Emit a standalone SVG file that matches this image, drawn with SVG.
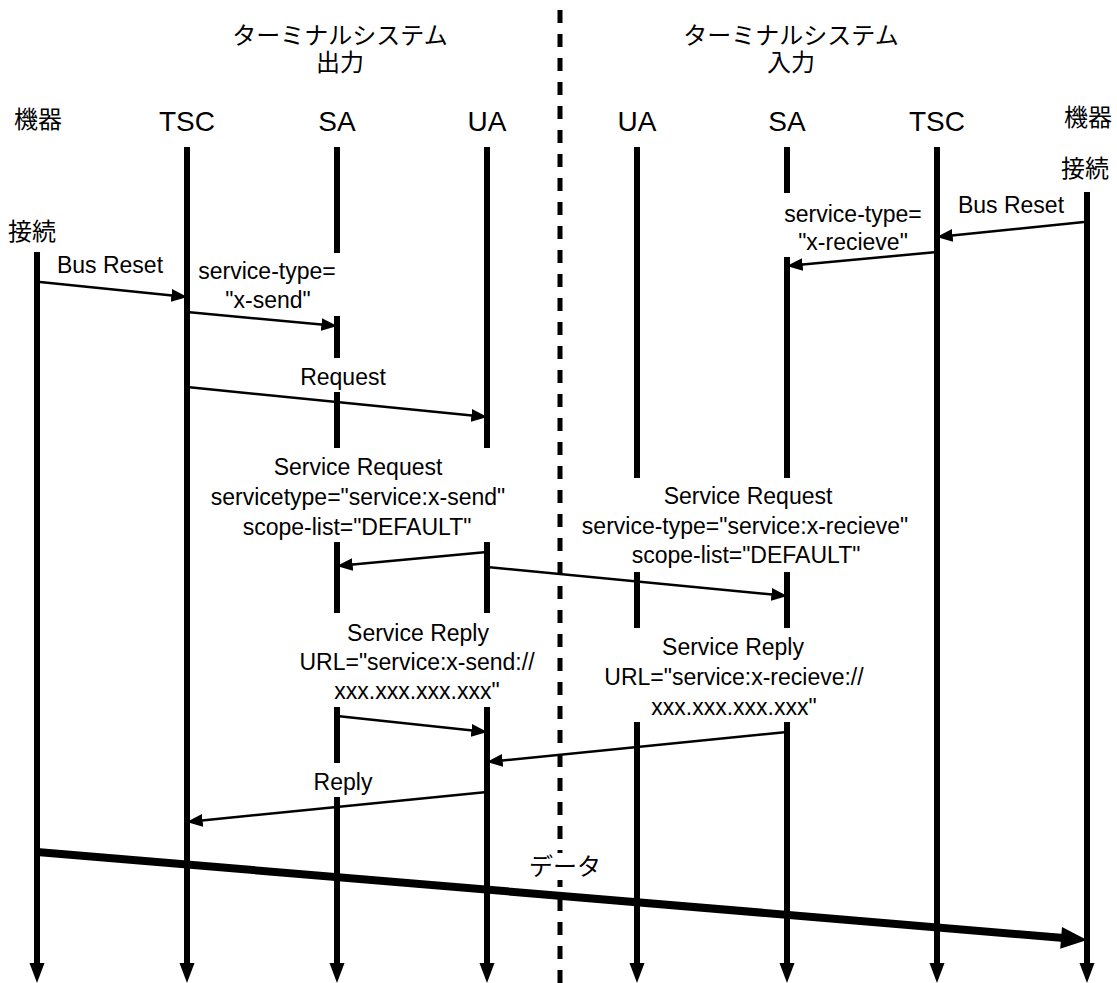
<svg xmlns="http://www.w3.org/2000/svg" width="1117" height="983" viewBox="0 0 1117 983">
<style>
.bg{fill:#fff}
.life{stroke:#000;stroke-width:6;fill:none}
.msg{stroke:#000;stroke-width:2.5;fill:none;marker-end:url(#ah)}
.div{stroke:#000;stroke-width:5;stroke-dasharray:13 11;fill:none}
.jp{font-family:"Noto Sans CJK JP","Noto Sans",sans-serif;font-size:24px;fill:#000;text-anchor:middle}
.tt{font-family:"Noto Sans CJK JP","Noto Sans",sans-serif;font-size:24px;fill:#000;text-anchor:middle}
.hd{font-family:"Liberation Sans",Arial,sans-serif;font-size:28px;fill:#000;text-anchor:middle}
.lb{font-family:"Liberation Sans",Arial,sans-serif;font-size:23px;fill:#000;text-anchor:middle}
</style>
<defs>
<marker id="ah" markerUnits="userSpaceOnUse" markerWidth="16" markerHeight="13" refX="10" refY="6" orient="auto" viewBox="0 0 15 12">
<path d="M0,0 L15,6 L0,12 z" fill="#000"/>
</marker>
</defs>
<rect class="bg" x="0" y="0" width="1117" height="983"/>

<g id="divider">
<line class="div" x1="560" y1="10" x2="560" y2="983"/>
</g>

<g id="title-left">
<text class="tt" x="340" y="44">ターミナルシステム<tspan x="340" dy="27">出力</tspan></text>
</g>
<g id="title-right">
<text class="tt" x="791" y="44">ターミナルシステム<tspan x="791" dy="27">入力</tspan></text>
</g>

<g id="node-device-left">
<text class="jp" x="38" y="128">機器</text>
<text class="jp" x="32" y="240">接続</text>
<line class="life" x1="37" y1="252" x2="37" y2="965"/>
<polygon points="29.5,963 44.5,963 37,983" fill="#000"/>
</g>
<g id="node-tsc-left">
<text class="hd" x="187" y="131">TSC</text>
<line class="life" x1="187" y1="147" x2="187" y2="965"/>
<polygon points="179.5,963 194.5,963 187,983" fill="#000"/>
</g>
<g id="node-sa-left">
<text class="hd" x="337" y="131">SA</text>
<path class="life" d="M337,147V253M337,316V358M337,392V448M337,542V613M337,707V763M337,797V965"/>
<polygon points="329.5,963 344.5,963 337,983" fill="#000"/>
</g>
<g id="node-ua-left">
<text class="hd" x="487" y="131">UA</text>
<path class="life" d="M487,147V448M487,542V613M487,707V965"/>
<polygon points="479.5,963 494.5,963 487,983" fill="#000"/>
</g>
<g id="node-ua-right">
<text class="hd" x="637" y="131">UA</text>
<path class="life" d="M637,147V478M637,572V628M637,722V965"/>
<polygon points="629.5,963 644.5,963 637,983" fill="#000"/>
</g>
<g id="node-sa-right">
<text class="hd" x="787" y="131">SA</text>
<path class="life" d="M787,147V193M787,257V478M787,572V628M787,722V965"/>
<polygon points="779.5,963 794.5,963 787,983" fill="#000"/>
</g>
<g id="node-tsc-right">
<text class="hd" x="937" y="131">TSC</text>
<line class="life" x1="937" y1="147" x2="937" y2="965"/>
<polygon points="929.5,963 944.5,963 937,983" fill="#000"/>
</g>
<g id="node-device-right">
<text class="jp" x="1088" y="126">機器</text>
<text class="jp" x="1085" y="177">接続</text>
<line class="life" x1="1087" y1="192" x2="1087" y2="965"/>
<polygon points="1079.5,963 1094.5,963 1087,983" fill="#000"/>
</g>

<g id="connectors">
<line class="msg" x1="40" y1="282" x2="182" y2="296.5"/>
<line class="msg" x1="187" y1="312" x2="332" y2="325.5"/>
<line class="msg" x1="187" y1="387" x2="482" y2="416.5"/>
<line class="msg" x1="1084" y1="222" x2="942" y2="236.5"/>
<line class="msg" x1="937" y1="252" x2="792" y2="265.5"/>
<line class="msg" x1="487" y1="552" x2="342" y2="565.5"/>
<line class="msg" x1="487" y1="567" x2="782" y2="595.5"/>
<line class="msg" x1="337" y1="716" x2="482" y2="731.5"/>
<line class="msg" x1="787" y1="732" x2="492" y2="761.5"/>
<line class="msg" x1="487" y1="792" x2="192" y2="821.5"/>
<line x1="37" y1="852" x2="1064" y2="938" stroke="#000" stroke-width="8"/>
<polygon points="1087,940 1060.2,948.8 1062,926.9" fill="#000"/>
</g>

<g id="labels">
<text class="lb" x="110" y="273">Bus Reset</text>
<text class="lb" x="267" y="279">service-type=</text>
<text class="lb" x="268" y="308">"x-send"</text>
<text class="lb" x="343" y="385">Request</text>
<text class="lb" x="1011" y="213">Bus Reset</text>
<text class="lb" x="853" y="222">service-type=</text>
<text class="lb" x="853" y="250">"x-recieve"</text>
<text class="lb" x="358" y="475">Service Request</text>
<text class="lb" x="358" y="505">servicetype="service:x-send"</text>
<text class="lb" x="357" y="535">scope-list="DEFAULT"</text>
<text class="lb" x="748" y="504">Service Request</text>
<text class="lb" x="745" y="534">service-type="service:x-recieve"</text>
<text class="lb" x="746" y="563">scope-list="DEFAULT"</text>
<text class="lb" x="418" y="641">Service Reply</text>
<text class="lb" x="417" y="670">URL="service:x-send://</text>
<text class="lb" x="417" y="699">xxx.xxx.xxx.xxx"</text>
<text class="lb" x="733" y="655">Service Reply</text>
<text class="lb" x="734" y="685">URL="service:x-recieve://</text>
<text class="lb" x="734" y="715">xxx.xxx.xxx.xxx"</text>
<text class="lb" x="343" y="790">Reply</text>
<rect x="540" y="853" width="50" height="27" fill="#fff"/>
<text class="jp" x="565" y="875">データ</text>
</g>
</svg>
